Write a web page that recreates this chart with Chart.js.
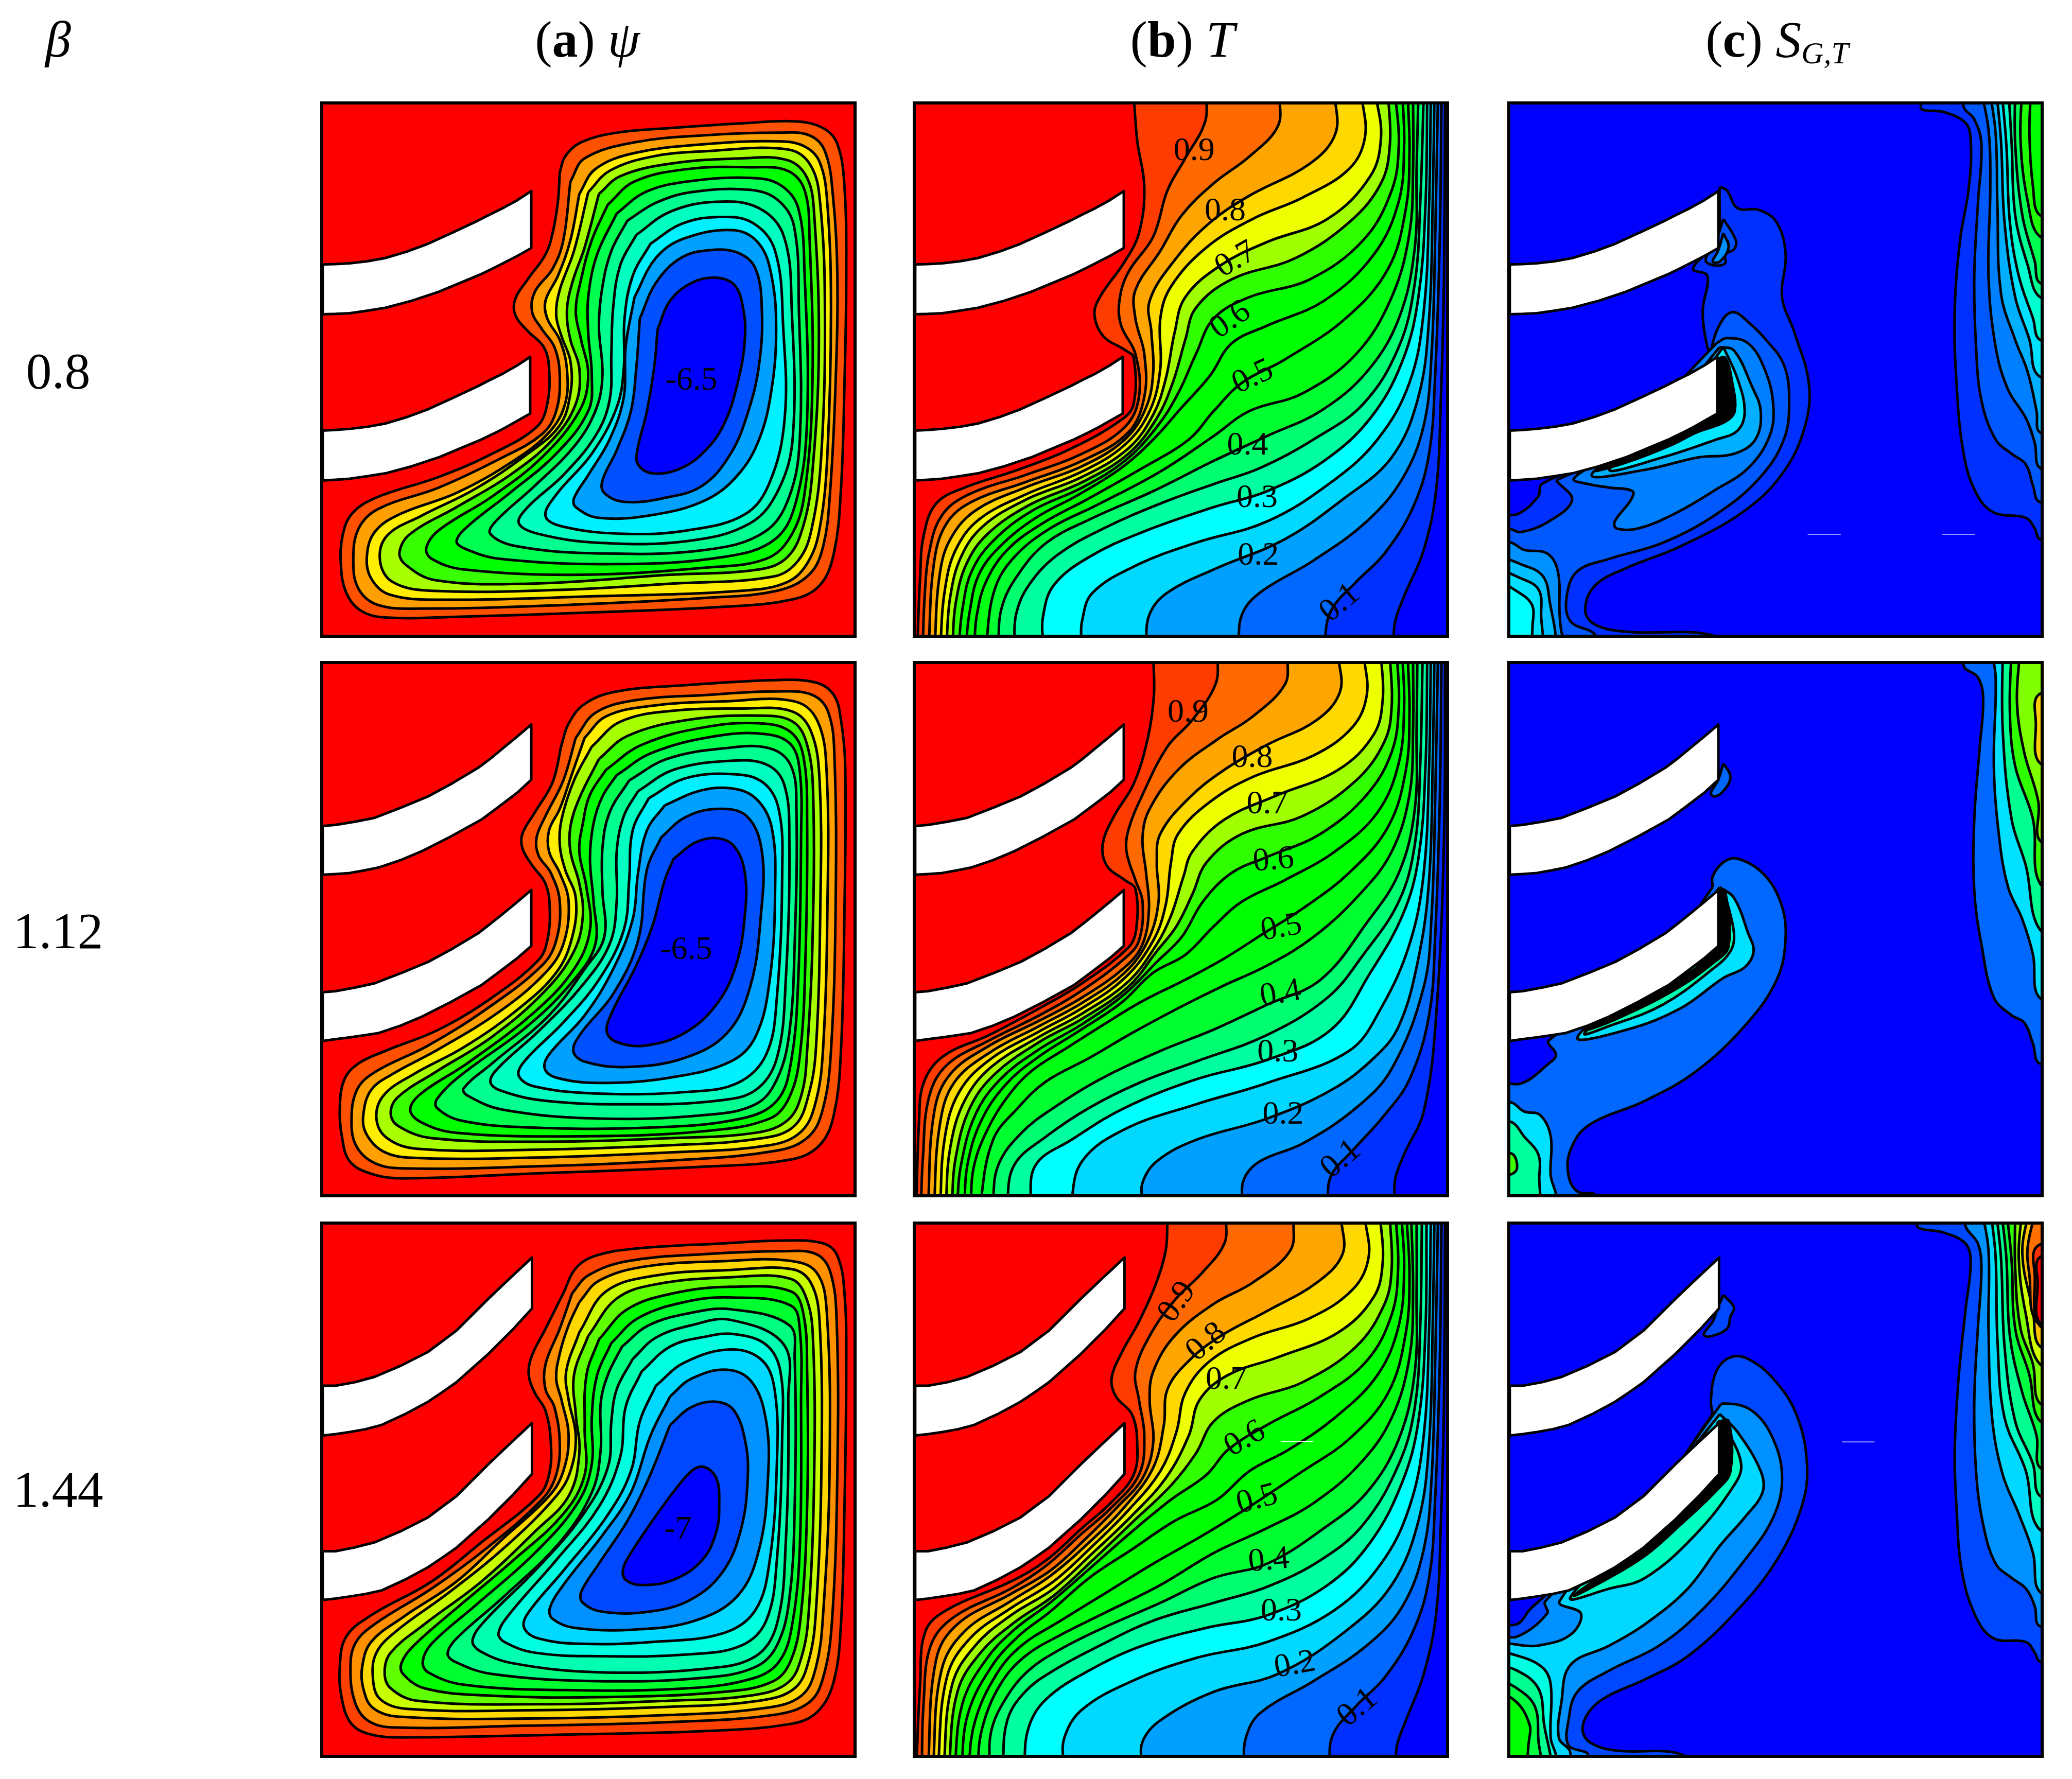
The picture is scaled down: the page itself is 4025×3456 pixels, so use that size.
<!DOCTYPE html>
<html>
<head>
<meta charset="utf-8">
<title>psi, T, S contours</title>
<script src="https://cdn.jsdelivr.net/npm/chart.js@4/dist/chart.umd.js"></script>
<style>
  html, body { margin: 0; background: #fff; }
  body { position: relative; width: 4025px; height: 3456px; overflow: hidden; font-family: "Liberation Serif", serif; color: #000; }
  canvas { position: absolute; outline: 6px solid #000; outline-offset: -6px; }
  .txt { position: absolute; font-size: 100px; line-height: 1; white-space: nowrap; transform: translate(-50%, -50%); }
  .txt sub { font-size: 60%; vertical-align: -0.22em; line-height: 0; }
</style>
</head>
<body>
<div class="txt" style="left:113px;top:77px"><i>β</i></div>
<div class="txt" style="left:1141px;top:77px">(<b>a</b>) <i>ψ</i></div>
<div class="txt" style="left:2297px;top:77px">(<b>b</b>) <i>T</i></div>
<div class="txt" style="left:3452px;top:77px">(<b>c</b>) <i>S<sub>G,T</sub></i></div>
<div class="txt" style="left:113px;top:721px">0.8</div>
<div class="txt" style="left:113px;top:1809px">1.12</div>
<div class="txt" style="left:113px;top:2894px">1.44</div>

<script>
const psiColors = ['#ff5000','#ffa000','#ffee00','#a8ff00','#38ff00','#00ff00','#00ff50','#00ff90','#00ffc0','#00f0ff','#00a0ff','#0050ff','#0000ff'];
const psiColorsDeep = ['#ff4000','#ff9000','#ffd800','#c8ff00','#60ff00','#00ff00','#00ff30','#00ff80','#00ffb0','#00ffe0','#00d8ff','#0090ff','#0048ff','#0000ff'];
const tempColors = ['#ff3c00','#ff6a00','#ffa500','#ffd800','#eeff00','#a0ff00','#30ff00','#00ff00','#00ff00','#00ff10','#00ff30','#00ff70','#00ffa0','#00ffff','#00d8ff','#00a0ff','#0068ff','#0030ff','#0000ff'];

const finRow1 = [[24,468,60,467,100,465,150,459,200,450,260,432,320,410,390,378,460,345,495,327,530,310,570,288,610,262,610,422,575,442,540,460,505,478,470,495,410,520,350,545,275,570,200,590,150,598,100,605,60,607,24,608],
  [24,935,60,933,100,930,150,924,200,915,260,897,320,875,390,843,460,810,495,792,530,775,570,752,607,728,607,887,575,905,540,925,505,943,470,960,410,985,350,1010,275,1035,200,1055,150,1063,100,1070,60,1073,24,1075]];
const finRow2 = [[24,468,60,465,115,456,170,445,245,416,320,385,390,347,460,305,495,279,530,250,570,217,610,183,610,338,570,375,520,413,470,450,385,497,300,540,240,565,180,585,140,593,100,600,60,603,24,605],
  [24,935,60,932,115,922,170,910,245,881,320,850,390,812,460,770,495,743,530,715,570,682,610,648,610,805,570,840,520,878,470,915,385,962,300,1005,240,1030,180,1050,140,1056,100,1062,60,1067,24,1072]];
const finRow3 = [[24,460,60,460,115,450,170,435,245,403,320,365,360,335,400,305,445,260,490,215,550,158,612,100,612,243,560,300,525,335,490,370,445,410,400,450,360,478,320,505,255,540,190,570,145,582,100,590,60,596,24,600],
  [24,925,60,925,115,914,170,900,245,868,320,830,360,800,400,770,445,725,490,680,550,623,612,565,612,708,560,765,525,800,490,835,445,875,400,915,360,943,320,970,255,1005,190,1035,145,1045,100,1052,60,1058,24,1062]];

const psiRow1 = [
  [690,210,705,165,750,125,850,98,1000,85,1200,72,1350,66,1430,85,1470,130,1490,250,1495,500,1490,800,1480,1100,1460,1280,1420,1370,1340,1410,1150,1430,800,1445,400,1458,200,1460,130,1440,90,1390,75,1310,80,1230,105,1170,170,1125,350,1065,500,1000,625,925,655,860,660,760,645,700,600,655,565,610,565,565,600,510,650,440,670,380,685,290],
  [720,235,760,170,900,125,1100,105,1300,98,1390,105,1435,150,1458,280,1470,500,1465,800,1450,1100,1430,1260,1390,1340,1300,1385,1100,1405,700,1425,300,1435,180,1425,125,1380,110,1300,125,1210,180,1155,350,1095,520,1015,640,945,680,880,690,780,675,700,640,650,612,600,620,545,670,480,700,400],
  [745,270,790,200,900,155,1100,130,1300,122,1375,135,1420,180,1442,300,1452,600,1442,1000,1422,1200,1390,1300,1330,1360,1200,1385,800,1400,350,1410,210,1395,160,1350,148,1290,170,1220,240,1170,400,1110,560,1020,660,940,705,860,710,760,690,680,655,620,650,570,685,500,720,400],
  [770,265,830,205,950,165,1100,150,1330,145,1395,190,1422,300,1435,600,1425,1000,1398,1210,1360,1300,1290,1345,1000,1365,700,1382,330,1385,220,1360,185,1300,205,1230,300,1175,450,1100,600,1000,690,920,720,830,720,740,695,670,680,610,690,540,730,430],
  [800,270,860,220,1000,185,1200,170,1330,175,1385,225,1405,330,1418,700,1400,1050,1375,1200,1330,1290,1250,1325,1000,1340,600,1365,340,1355,255,1310,240,1275,270,1225,400,1150,550,1060,670,960,735,860,745,760,720,680,710,600,725,520,760,420],
  [825,300,900,235,1050,200,1230,195,1330,205,1378,260,1392,400,1400,800,1378,1110,1340,1230,1270,1295,1100,1320,750,1340,420,1325,330,1295,315,1265,350,1215,500,1120,640,1010,745,880,770,780,750,680,735,600,750,510,780,400],
  [850,325,930,265,1050,235,1230,225,1310,245,1360,310,1378,500,1385,900,1355,1130,1295,1240,1150,1290,850,1310,520,1295,420,1265,400,1245,430,1205,550,1110,680,1000,770,880,780,780,770,660,770,560,795,440],
  [880,345,960,295,1060,265,1220,258,1300,285,1348,360,1362,600,1365,950,1335,1120,1265,1220,1100,1270,800,1280,570,1260,495,1225,510,1190,620,1090,730,980,790,880,810,780,800,640,810,530,835,430],
  [905,385,1000,320,1130,292,1250,310,1320,390,1342,600,1345,950,1305,1100,1225,1195,1050,1245,800,1250,630,1225,575,1195,600,1150,700,1060,790,950,830,850,835,720,840,590,860,470],
  [945,410,1030,355,1130,335,1230,350,1295,430,1318,650,1322,900,1280,1080,1210,1170,1050,1215,870,1225,700,1205,650,1175,680,1115,780,1000,850,870,870,760,872,620,895,500],
  [900,560,960,450,1040,395,1180,372,1250,410,1285,500,1298,650,1285,820,1250,960,1190,1060,1100,1130,950,1172,800,1180,735,1150,730,1125,770,1060,830,960,870,840,875,700],
  [915,620,960,520,1030,450,1110,428,1190,435,1240,480,1258,600,1250,750,1220,880,1170,1000,1090,1090,980,1125,870,1135,815,1110,810,1075,850,990,890,880,905,760],
  [965,650,1000,570,1060,520,1125,505,1180,525,1205,590,1210,680,1190,800,1150,920,1090,1000,1020,1045,950,1055,910,1030,908,990,935,880,955,760]
];
const psiRow2 = [
  [695,240,715,180,760,125,850,90,1050,72,1300,58,1410,65,1460,100,1480,170,1492,300,1490,700,1480,1100,1460,1280,1420,1365,1340,1405,1100,1425,600,1445,250,1458,160,1445,100,1410,78,1340,72,1260,85,1180,125,1135,200,1100,350,1040,500,950,630,845,655,790,662,700,650,630,610,575,585,530,585,490,620,430,670,345],
  [735,220,790,150,900,115,1100,100,1300,90,1400,100,1445,150,1462,280,1465,700,1452,1100,1430,1260,1390,1340,1300,1380,1000,1408,600,1425,250,1430,170,1415,120,1370,105,1300,120,1210,170,1160,320,1085,480,985,640,860,680,790,690,680,665,600,630,550,625,500,650,440,700,340],
  [760,220,820,160,950,130,1150,118,1350,118,1415,175,1440,320,1442,700,1430,1090,1410,1240,1370,1325,1280,1365,1000,1385,600,1400,270,1400,190,1380,145,1330,138,1280,160,1210,220,1165,350,1095,520,990,650,880,700,800,715,680,690,600,660,540,660,480,690,420,725,320],
  [780,245,860,175,1000,145,1200,138,1340,145,1395,200,1420,340,1422,700,1410,1090,1390,1220,1350,1310,1260,1345,1000,1365,600,1378,290,1375,205,1345,175,1290,195,1225,280,1165,420,1090,570,985,680,880,725,780,735,670,705,590,690,520,695,450,730,340],
  [800,280,880,215,1050,170,1250,158,1345,175,1385,240,1402,380,1400,800,1385,1100,1370,1220,1330,1295,1240,1330,1000,1345,650,1355,330,1345,235,1310,215,1275,235,1230,340,1160,500,1060,650,930,730,820,755,720,745,630,720,540,720,470,745,390],
  [820,310,920,240,1100,190,1260,180,1340,205,1375,275,1385,450,1380,850,1365,1110,1335,1230,1280,1290,1100,1325,750,1340,400,1330,300,1300,270,1265,300,1220,430,1135,620,990,730,870,775,760,765,640,745,540,755,460,775,380],
  [850,325,950,262,1130,215,1270,210,1340,240,1365,320,1368,500,1360,900,1340,1130,1300,1240,1200,1290,950,1315,600,1315,410,1295,345,1260,345,1235,410,1170,600,1030,730,900,790,800,785,680,775,560,785,460,810,385],
  [885,340,990,280,1150,250,1280,250,1340,300,1355,420,1350,800,1335,1050,1300,1180,1240,1250,1100,1280,800,1290,530,1265,430,1225,420,1205,500,1135,660,1000,760,870,815,780,810,650,810,530,830,430],
  [910,370,1010,310,1170,285,1270,295,1320,350,1335,500,1325,900,1300,1120,1240,1210,1130,1240,900,1250,650,1240,520,1210,495,1185,520,1145,630,1045,750,920,830,800,850,680,850,540,870,440],
  [940,390,1040,335,1170,322,1260,345,1305,420,1315,600,1300,950,1270,1110,1190,1190,1050,1215,800,1220,620,1200,575,1170,590,1130,700,1020,800,900,870,760,885,620,895,480],
  [985,410,1080,370,1170,362,1240,390,1285,470,1295,650,1280,900,1240,1060,1170,1130,1000,1175,800,1190,680,1175,648,1150,660,1110,760,1000,840,870,895,730,910,600,935,480],
  [975,500,1040,445,1130,420,1215,440,1258,540,1255,720,1225,920,1160,1050,1040,1120,880,1145,760,1130,728,1100,750,1050,840,940,910,790,935,590],
  [1010,560,1070,515,1130,502,1180,525,1210,600,1210,720,1185,860,1130,970,1040,1050,930,1085,850,1075,822,1045,840,985,900,870,950,750,985,620]
];
const psiRow3 = [
  [700,200,735,130,790,95,900,75,1150,60,1320,52,1430,60,1470,95,1490,200,1495,400,1490,800,1480,1130,1460,1290,1415,1375,1340,1410,1100,1430,700,1440,250,1448,160,1440,105,1410,78,1340,72,1250,90,1165,160,1105,330,1010,470,900,630,770,660,710,665,620,650,530,620,480,603,430,610,380,650,300],
  [725,200,770,150,880,110,1100,90,1320,82,1410,90,1450,140,1468,280,1470,700,1455,1120,1430,1280,1390,1350,1290,1385,1000,1405,600,1415,220,1420,150,1400,115,1350,102,1260,115,1185,170,1130,330,1030,480,920,640,780,680,710,690,620,675,520,650,470,650,400,690,300],
  [745,225,800,165,930,125,1150,110,1330,108,1410,140,1440,250,1448,700,1430,1100,1410,1250,1370,1330,1270,1365,1000,1385,600,1395,240,1390,165,1365,138,1310,135,1250,160,1180,250,1110,400,1010,530,890,660,770,700,700,715,600,695,500,680,440,690,370,715,290],
  [745,310,820,195,960,150,1170,135,1340,132,1395,170,1420,280,1425,700,1410,1090,1390,1230,1350,1310,1250,1345,1000,1362,600,1372,260,1368,185,1340,165,1280,175,1210,230,1150,380,1040,540,910,680,770,720,700,735,600,715,500,708,420],
  [770,320,850,215,960,175,1170,155,1340,160,1385,220,1402,340,1405,700,1390,1090,1370,1220,1330,1295,1230,1330,1000,1345,620,1355,290,1345,215,1310,198,1265,215,1210,310,1130,470,1010,620,870,715,770,745,650,735,540,730,430],
  [800,330,880,245,1010,200,1170,182,1340,195,1375,260,1385,420,1385,800,1368,1100,1340,1230,1290,1290,1150,1320,800,1335,480,1330,310,1310,250,1270,245,1240,280,1190,400,1085,560,950,700,820,760,710,760,580,765,430],
  [835,340,910,270,1040,225,1170,212,1340,235,1365,310,1368,500,1365,900,1345,1120,1310,1230,1240,1280,1050,1310,700,1315,420,1300,320,1265,305,1235,330,1185,450,1080,620,930,740,790,780,680,780,550,795,430],
  [865,350,940,290,1060,255,1170,245,1335,290,1350,380,1350,800,1335,1060,1300,1190,1240,1250,1100,1280,800,1290,500,1270,395,1235,375,1212,400,1170,530,1055,690,900,780,760,805,640,805,510,825,430],
  [895,385,960,325,1060,290,1170,275,1320,345,1332,500,1325,900,1300,1130,1240,1220,1100,1255,800,1265,560,1240,465,1205,445,1175,480,1120,620,980,750,830,825,690,835,560,850,470],
  [920,420,1000,350,1100,322,1180,315,1270,345,1310,420,1315,600,1300,950,1270,1120,1200,1190,1050,1215,800,1220,620,1210,535,1180,518,1155,550,1100,680,950,800,800,860,660,875,520],
  [960,460,1040,395,1170,358,1260,390,1295,480,1300,680,1280,950,1240,1090,1150,1155,950,1180,750,1185,630,1170,590,1140,600,1100,700,980,820,830,890,700,915,560],
  [1000,490,1060,440,1160,415,1230,450,1270,560,1275,720,1250,920,1190,1050,1070,1120,900,1145,730,1140,670,1115,662,1085,700,1020,810,880,890,760,945,600],
  [1000,570,1060,520,1130,505,1180,530,1212,620,1218,720,1200,860,1150,980,1060,1060,940,1095,810,1095,755,1070,750,1040,800,960,880,840,940,720],
  [1000,770,1060,700,1095,688,1130,720,1138,790,1130,870,1090,950,1010,1005,920,1020,875,1005,868,975,890,930,950,840]
];

// T = 0.95, 0.90 ... 0.05, each from the top edge to the bottom edge
const tempRow1 = [
  [625,-10,635,120,655,250,640,380,600,460,530,560,515,610,540,670,600,708,625,730,625,860,590,905,450,985,300,1045,150,1095,70,1140,35,1230,25,1350,18,1530],
  [830,-10,825,70,770,170,720,260,680,390,610,490,585,570,590,640,630,720,640,840,600,925,480,1000,320,1060,160,1115,85,1175,50,1280,38,1400,33,1530],
  [1035,-10,1030,80,950,165,850,240,760,330,700,430,630,540,630,620,655,720,655,840,610,940,480,1020,320,1080,170,1135,100,1195,65,1300,50,1530],
  [1190,-10,1192,100,1120,185,950,275,840,350,745,450,670,570,675,660,680,770,660,870,600,960,480,1035,320,1095,180,1160,110,1240,80,1340,67,1530],
  [1265,-10,1275,110,1230,200,1100,280,960,340,830,420,730,530,700,620,700,760,670,880,600,975,480,1050,320,1115,190,1185,125,1270,95,1380,83,1530],
  [1305,-10,1320,110,1290,220,1170,340,1000,405,870,470,770,560,740,660,715,790,680,890,610,985,480,1065,320,1130,200,1205,140,1290,110,1400,100,1530],
  [1340,-10,1345,130,1320,240,1230,350,1080,450,900,510,800,590,770,680,735,800,690,900,610,1000,480,1080,330,1145,215,1225,155,1310,125,1420,117,1530],
  [1360,-10,1370,130,1350,260,1270,400,1120,510,950,560,850,620,800,720,750,830,690,925,600,1020,480,1095,340,1160,230,1245,170,1330,145,1430,135,1530],
  [1380,-10,1385,130,1370,290,1300,440,1160,570,1000,640,900,690,840,780,760,870,680,960,590,1040,470,1115,350,1180,250,1260,190,1340,165,1440,155,1530],
  [1395,-10,1400,150,1390,310,1340,480,1220,620,1050,735,930,800,850,880,780,960,650,1040,500,1125,370,1195,270,1270,210,1360,185,1450,178,1530],
  [1410,-10,1410,200,1400,380,1350,560,1250,720,1100,830,950,880,850,950,700,1050,520,1145,390,1210,290,1290,235,1380,212,1530],
  [1425,-10,1420,200,1415,420,1370,620,1280,770,1150,880,1000,950,850,1020,680,1105,500,1185,380,1250,300,1340,255,1430,245,1530],
  [1440,-10,1430,300,1415,520,1370,700,1270,860,1130,960,980,1040,850,1085,700,1140,540,1210,410,1285,330,1370,295,1450,290,1530],
  [1450,-10,1445,300,1425,560,1380,740,1290,900,1160,1020,1000,1105,850,1150,650,1220,500,1290,400,1370,370,1460,370,1530],
  [1460,-10,1455,300,1440,600,1400,800,1310,960,1180,1080,1000,1190,800,1250,640,1310,510,1390,480,1470,478,1530],
  [1470,-10,1465,300,1455,620,1425,840,1350,1010,1210,1130,1050,1240,850,1325,720,1390,670,1450,660,1530],
  [1480,-10,1472,400,1462,720,1440,920,1380,1070,1280,1190,1130,1300,980,1390,930,1450,920,1530],
  [1490,-10,1485,400,1472,780,1455,1000,1410,1150,1330,1280,1250,1360,1180,1440,1162,1530],
  [1500,-10,1497,500,1488,850,1475,1100,1440,1270,1385,1400,1360,1470,1355,1530]
];
const tempRow2 = [
  [680,-10,682,100,665,220,625,350,570,440,538,520,550,580,600,620,630,645,632,760,610,810,480,910,370,975,220,1055,90,1115,35,1190,22,1300,15,1530],
  [862,-10,855,70,790,170,720,245,650,380,610,480,605,540,630,620,650,680,640,790,600,840,480,930,360,1000,220,1070,100,1140,50,1230,33,1400,28,1530],
  [1058,-10,1050,70,960,160,860,225,750,310,670,420,650,500,660,600,668,700,650,800,600,865,480,950,360,1015,220,1085,110,1165,65,1270,48,1530],
  [1200,-10,1205,90,1140,170,1000,240,880,310,780,390,700,490,690,570,695,680,665,790,600,880,480,965,360,1030,220,1105,120,1190,80,1310,65,1530],
  [1272,-10,1280,100,1240,190,1130,270,960,330,840,400,750,490,730,570,715,690,680,790,600,895,480,980,360,1045,220,1125,135,1215,95,1340,82,1530],
  [1320,-10,1325,110,1300,210,1200,310,1020,385,880,450,790,540,765,610,730,720,690,800,610,905,480,995,360,1060,225,1145,150,1240,110,1370,98,1530],
  [1345,-10,1350,130,1330,230,1250,340,1100,440,930,490,830,570,790,660,745,750,690,820,610,920,480,1010,360,1075,235,1165,165,1260,125,1400,115,1530],
  [1365,-10,1370,130,1350,260,1280,380,1150,490,1000,555,900,600,820,680,760,780,690,850,600,940,480,1025,360,1095,250,1180,180,1280,140,1420,130,1530],
  [1380,-10,1385,130,1370,290,1310,430,1190,540,1050,620,930,680,850,750,770,830,680,880,590,965,470,1045,360,1115,265,1195,195,1300,158,1420,150,1530],
  [1395,-10,1400,150,1390,310,1340,470,1230,600,1100,700,990,770,880,840,770,900,650,960,550,1020,440,1090,340,1155,270,1230,210,1330,175,1430,168,1530],
  [1410,-10,1410,200,1400,380,1350,540,1260,660,1130,780,1000,860,870,920,750,980,620,1050,500,1120,380,1185,300,1260,230,1350,195,1530],
  [1422,-10,1420,200,1415,420,1370,600,1280,740,1150,900,1000,970,850,1040,700,1100,530,1180,400,1260,310,1330,245,1420,230,1530],
  [1437,-10,1430,300,1415,520,1370,680,1270,830,1170,950,1000,1055,800,1130,640,1190,500,1260,380,1340,290,1420,270,1530],
  [1450,-10,1445,300,1425,560,1380,720,1290,880,1180,1040,1000,1125,800,1180,600,1260,450,1350,350,1420,335,1530],
  [1460,-10,1455,300,1440,600,1400,800,1320,980,1230,1100,1000,1190,800,1250,600,1320,480,1410,450,1530],
  [1470,-10,1465,300,1455,620,1425,840,1370,1030,1300,1120,1180,1210,1000,1290,800,1350,690,1410,650,1470,650,1530],
  [1480,-10,1472,400,1462,720,1440,920,1350,1150,1250,1260,1100,1360,980,1410,935,1460,930,1530],
  [1490,-10,1485,400,1472,780,1455,1000,1400,1180,1330,1280,1240,1380,1180,1450,1170,1530],
  [1500,-10,1497,500,1475,1000,1440,1270,1385,1390,1360,1460,1358,1530]
];
const tempRow3 = [
  [720,-10,715,80,685,180,640,280,590,370,563,440,575,490,620,540,635,620,625,710,560,790,480,860,380,950,280,1010,100,1090,40,1150,25,1300,15,1530],
  [885,-10,880,60,820,140,740,220,670,320,630,420,640,500,655,600,640,710,560,805,480,875,380,965,280,1030,120,1110,55,1190,35,1350,30,1530],
  [1075,-10,1065,80,960,170,850,230,740,320,680,420,670,500,680,620,650,720,580,800,490,890,390,980,280,1045,130,1130,70,1230,48,1530],
  [1208,-10,1212,90,1140,170,1000,250,870,320,780,390,720,470,710,570,680,690,600,800,500,900,390,995,280,1065,150,1150,85,1260,62,1530],
  [1275,-10,1285,100,1240,190,1120,270,960,325,840,390,770,480,745,590,700,700,610,810,510,910,400,1010,280,1085,165,1170,100,1280,76,1530],
  [1318,-10,1325,110,1300,210,1200,310,1030,380,890,430,810,500,780,600,715,720,620,825,510,930,400,1030,280,1105,180,1190,115,1300,92,1530],
  [1345,-10,1350,130,1330,230,1250,350,1100,450,950,500,850,560,800,650,730,740,620,845,510,950,400,1050,290,1125,195,1210,130,1320,107,1530],
  [1362,-10,1368,130,1350,260,1280,390,1150,490,1000,570,890,640,830,710,730,780,620,870,500,975,390,1070,290,1145,210,1230,145,1350,123,1530],
  [1378,-10,1385,130,1370,290,1310,430,1190,550,1060,640,950,700,860,780,740,840,620,920,500,1000,390,1095,300,1165,225,1250,160,1380,142,1530],
  [1392,-10,1400,150,1390,310,1340,480,1230,610,1100,700,950,800,820,880,680,960,550,1040,420,1120,310,1190,240,1270,180,1400,162,1530],
  [1405,-10,1410,200,1400,380,1350,550,1260,680,1130,790,1000,860,850,930,700,1020,540,1100,420,1160,320,1220,250,1300,200,1420,187,1530],
  [1420,-10,1420,200,1415,420,1370,610,1280,760,1160,860,1000,960,850,1000,700,1070,540,1140,420,1200,330,1260,265,1340,225,1430,220,1530],
  [1435,-10,1430,300,1415,520,1370,680,1270,850,1150,950,1000,1025,850,1070,680,1120,530,1190,400,1260,320,1320,270,1400,258,1530],
  [1448,-10,1445,300,1425,560,1380,730,1290,900,1170,1020,1000,1105,830,1140,650,1190,500,1260,380,1340,330,1420,318,1530],
  [1460,-10,1455,300,1440,600,1400,800,1320,960,1190,1090,1000,1180,800,1225,620,1290,480,1370,430,1450,428,1530],
  [1470,-10,1465,300,1455,620,1425,840,1350,1020,1220,1150,1030,1270,850,1320,700,1400,650,1460,648,1530],
  [1480,-10,1472,400,1462,720,1440,920,1380,1080,1280,1190,1130,1290,980,1380,940,1450,935,1530],
  [1490,-10,1485,400,1472,780,1455,1000,1410,1150,1330,1280,1250,1360,1185,1440,1175,1530],
  [1500,-10,1497,500,1488,850,1475,1100,1440,1270,1390,1400,1365,1470,1362,1530]
];

const sgtRow1 = [
  [1215,-40,1175,28,1240,40,1300,70,1315,120,1310,250,1285,400,1270,600,1275,800,1295,1000,1330,1110,1380,1165,1470,1180,1495,1210,1510,1240,1600,1240,1600,-40],
  [1300,-40,1295,25,1325,60,1345,130,1335,300,1325,500,1330,700,1345,850,1385,960,1430,1000,1470,1030,1490,1090,1508,1135,1600,1135,1600,-40],
  [1340,-40,1365,90,1370,250,1365,500,1385,700,1420,820,1470,900,1495,970,1510,1040,1600,1040,1600,-40],
  [1365,-40,1385,100,1390,300,1400,550,1440,680,1475,770,1500,880,1510,940,1600,940,1600,-40],
  [1385,-40,1400,120,1410,350,1440,560,1480,680,1505,780,1600,780,1600,-40],
  [1400,-40,1415,130,1425,350,1450,500,1490,620,1510,680,1600,680,1600,-40],
  [1420,-40,1430,130,1440,330,1475,470,1510,560,1600,560,1600,-40],
  [1440,-40,1440,130,1460,330,1495,460,1510,520,1600,520,1600,-40],
  [1460,-40,1455,120,1475,290,1510,390,1600,390,1600,-40],
  [1485,-40,1480,100,1490,250,1510,330,1600,330,1600,-40],
  [610,250,630,260,660,310,720,315,770,350,795,440,785,560,820,660,860,800,850,920,790,1050,680,1160,500,1260,350,1320,260,1370,232,1440,260,1480,350,1500,590,1510,590,1560,-40,1560,-40,1175,40,1170,100,1120,110,1085,300,1000,590,735,575,700,562,600,575,500,535,480,600,400],
  [150,1075,195,1130,130,1190,50,1220,12,1210,-40,1240,-40,1560,230,1560,260,1510,190,1470,180,1400,210,1330,300,1295,450,1250,600,1170,720,1070,790,960,805,850,790,750,740,680,690,630,650,602,620,620,590,690,590,735,300,1000],
  [600,690,630,675,690,690,735,760,760,860,750,950,690,1040,600,1100,480,1170,380,1210,320,1210,315,1190,360,1130,365,1105,300,1095,240,1085,200,1070,300,1000],
  [610,700,650,710,700,810,725,880,710,960,650,1000,550,1010,400,1045,250,1060,400,950],
  [620,700,660,790,680,880,660,935,600,960,450,1010,300,1045,450,930],
  [600,735,625,730,645,800,652,880,625,910,545,940,475,975,355,1022,260,1048,350,1005,470,950,540,915],
  [-40,1240,25,1250,60,1270,125,1280,155,1330,160,1450,165,1500,180,1560,-40,1560],
  [-40,1275,50,1310,110,1340,130,1400,135,1560,-40,1560],
  [-40,1310,40,1345,100,1380,108,1450,100,1560,-40,1560],
  [-40,1340,30,1380,80,1420,85,1470,65,1560,-40,1560],
  [620,340,655,400,650,425,625,440,625,465,590,470,570,455,600,400],
  [620,380,635,420,610,460,590,460,605,430]
];
const sgtRow1Colors = ['#0030ff','#0058ff','#0080ff','#00b0ff','#00e0ff','#00ffd0','#00ff90','#00ff50','#20ff00','#00ff00',
  '#0030ff','#0058ff','#0080ff','#00b0ff','#00e8ff','#000000','#0090ff','#00c0ff','#00e0ff','#00ffff','#0050ff','#0090ff'];
const sgtRow2 = [
  [1315,-40,1295,18,1335,50,1350,110,1340,250,1325,450,1325,650,1345,800,1380,950,1430,1000,1465,1020,1490,1080,1508,1135,1600,1135,1600,-40],
  [1370,-40,1385,50,1380,300,1395,500,1420,640,1460,730,1490,830,1508,950,1600,950,1600,-40],
  [1405,-40,1405,200,1430,450,1470,580,1510,760,1600,760,1600,-40],
  [1430,-40,1425,150,1440,300,1490,450,1510,630,1600,630,1600,-40],
  [1455,-40,1445,120,1465,260,1505,400,1510,510,1600,510,1600,-40],
  [1600,90,1505,100,1498,180,1508,290,1600,290],
  [590,640,590,610,620,570,660,560,730,600,780,680,795,780,770,900,680,1030,540,1160,400,1240,240,1310,190,1380,185,1450,210,1495,260,1505,230,1560,-40,1560,-40,1190,50,1192,130,1135,150,1110,130,1070,400,900],
  [610,640,650,670,690,770,705,820,680,865,620,895,500,980,350,1040,210,1062,400,900],
  [625,660,650,770,640,820,590,870,450,970,300,1030,230,1050,400,900],
  [607,650,625,650,635,805,595,850,480,930,320,1010,230,1042,300,1000,470,910,570,835],
  [620,292,640,330,620,370,595,385,585,375,605,340],
  [-40,1240,25,1245,60,1270,105,1280,135,1340,135,1450,150,1505,150,1560,-40,1560],
  [-40,1295,25,1300,60,1340,100,1390,103,1450,92,1560,-40,1560],
  [-40,1390,28,1390,35,1440,-40,1448]
];
const sgtRow2Colors = ['#0068ff','#00e0ff','#00ff90','#30ff00','#80ff00','#ffd000','#0068ff','#00e0ff','#00ffb0','#000000','#0068ff','#00e0ff','#00ff9f','#40ff00'];
const sgtRow3 = [
  [1210,-40,1165,12,1240,30,1300,60,1315,110,1300,250,1280,450,1270,650,1275,800,1290,980,1330,1110,1380,1170,1470,1180,1495,1210,1510,1235,1600,1235,1600,-40],
  [1310,-40,1300,10,1335,60,1345,130,1335,300,1325,500,1330,700,1350,850,1385,960,1430,1000,1470,1030,1495,1080,1508,1135,1600,1135,1600,-40],
  [1345,-40,1365,80,1365,300,1375,550,1405,710,1450,820,1490,930,1510,1040,1600,1040,1600,-40],
  [1370,-40,1385,100,1390,330,1410,550,1470,700,1505,860,1600,860,1600,-40],
  [1385,-40,1400,100,1410,350,1440,560,1490,680,1510,770,1600,770,1600,-40],
  [1400,-40,1415,100,1425,320,1460,480,1500,600,1510,690,1600,690,1600,-40],
  [1415,-40,1430,110,1440,300,1480,430,1510,560,1600,560,1600,-40],
  [1440,-40,1440,130,1455,300,1490,400,1510,510,1600,510,1600,-40],
  [1460,-40,1450,100,1470,260,1510,400,1600,400,1600,-40],
  [1480,-40,1460,90,1490,250,1510,350,1600,350,1600,-40],
  [1500,-40,1475,70,1480,150,1500,280,1600,310,1600,-40],
  [1600,50,1500,70,1495,150,1508,290,1600,300],
  [1600,85,1508,100,1503,170,1510,285,1600,290],
  [590,540,585,500,600,420,640,380,690,385,760,440,825,540,855,680,840,800,770,950,660,1090,520,1220,400,1285,290,1335,240,1380,225,1430,250,1465,320,1485,505,1497,510,1560,-40,1560,-40,1135,40,1130,80,1085,400,800],
  [600,530,620,510,700,530,760,610,785,720,760,830,680,950,560,1090,440,1190,300,1260,210,1320,185,1400,185,1470,240,1497,180,1560,-40,1560,-40,1165,40,1165,125,1100,120,1065,400,800],
  [610,540,660,590,725,700,730,760,680,830,610,910,520,1030,400,1130,300,1190,190,1245,165,1350,158,1450,190,1490,170,1560,-40,1560,-40,1200,100,1190,190,1160,220,1100,160,1065,400,800],
  [630,580,670,680,650,740,540,880,400,1000,300,1030,190,1055,400,850],
  [605,560,635,560,640,700,605,750,500,850,410,930,325,985,200,1050,320,965,400,910,490,830,560,760],
  [-40,1205,30,1215,110,1250,135,1300,135,1450,150,1500,150,1560,-40,1560],
  [-40,1240,40,1260,100,1310,115,1400,125,1560,-40,1560],
  [-40,1270,40,1310,90,1360,100,1450,100,1560,-40,1560],
  [-40,1300,40,1350,75,1410,75,1450,50,1560,-40,1560],
  [620,205,650,240,640,265,630,300,580,322,565,315,590,280,605,240]
];
const sgtRow3Colors = ['#0048ff','#0090ff','#00d8ff','#00ffc0','#00ff90','#00ff40','#30ff00','#80ff00','#d0ff00','#ffc000','#ff7000','#ff3000','#ff0000',
  '#0048ff','#0090ff','#00d8ff','#00ffc0','#000000','#00ffe0','#00ff90','#00ff40','#00ff00','#0048ff'];

const psiLabelsRow1 = [['-6.5',1060,795,0]];
const psiLabelsRow2 = [['-6.5',1045,818,0]];
const psiLabelsRow3 = [['-7',1022,865,0]];
const tempLabelsRow1 = [['0.9',795,150,0],['0.8',882,320,0],['0.7',912,455,-30],['0.6',897,625,-35],['0.5',960,785,-25],['0.4',945,978,0],['0.3',972,1125,0],['0.2',975,1288,0],['0.1',1205,1420,-40]];
const tempLabelsRow2 = [['0.9',778,150,0],['0.8',958,278,0],['0.7',1000,408,0],['0.6',1018,565,-5],['0.5',1040,755,-10],['0.4',1038,940,-10],['0.3',1030,1105,0],['0.2',1045,1280,0],['0.1',1208,1405,-40]];
const tempLabelsRow3 = [['0.9',748,225,-55],['0.8',830,338,-40],['0.7',885,445,0],['0.6',938,610,-30],['0.5',972,780,-15],['0.4',1005,952,-5],['0.3',1040,1095,0],['0.2',1078,1245,-10],['0.1',1255,1365,-40]];

const sgtStreaksRow1 = [[857,1226,950,1226],[1235,1226,1327,1226]];
const sgtStreaksRow3 = [[953,618,1045,618]];
const tempStreaksRow3 = [[1040,617,1130,617]];

// canvas boxes on the page, and the plot unit window each box shows
const colLeft = [622, 1773, 2928];
const rowTop = [197, 1284, 2373];
const boxSize = 1042;
const colMin = [17, 4.3, 13];
const rowMin = [10, 4.3, -1.4];
const unitSpan = 1507;

const fillShape = {
  id: 'fillShape',
  beforeDatasetDraw(chart, args) {
    const ds = chart.data.datasets[args.index];
    if (!ds.shapeColor) return;
    const line = args.meta.dataset;
    const ctx = chart.ctx;
    line.updateControlPoints(chart.chartArea, 'x');
    ctx.save();
    ctx.beginPath();
    line.path(ctx);
    ctx.closePath();
    ctx.fillStyle = ds.shapeColor;
    ctx.fill();
    ctx.restore();
  }
};

const contourText = {
  id: 'contourText',
  afterDatasetsDraw(chart) {
    const ctx = chart.ctx;
    ctx.save();
    ctx.font = '64px "Liberation Serif", serif';
    ctx.fillStyle = '#000';
    ctx.textAlign = 'center';
    ctx.textBaseline = 'middle';
    chart.options.plugins.contourText.labels.forEach(l => {
      ctx.save();
      ctx.translate(chart.scales.x.getPixelForValue(l[1]), chart.scales.y.getPixelForValue(l[2]));
      ctx.rotate(l[3] * Math.PI / 180);
      ctx.fillText(l[0], 0, 0);
      ctx.restore();
    });
    ctx.restore();
  }
};

function toPoints(flat) {
  const pts = [];
  for (let i = 0; i < flat.length; i += 2) pts.push({ x: flat[i], y: flat[i + 1] });
  return pts;
}

function closedPoints(flat) {
  const pts = toPoints(flat);
  pts.push(pts[0]);
  return pts;
}

// open T curve: run it off the panel and round the right side
function bandPoints(flat) {
  const pts = toPoints(flat);
  const first = pts[0], last = pts[pts.length - 1];
  pts.push({ x: last.x, y: 1620 }, { x: 1800, y: 1800 }, { x: 1800, y: -300 }, { x: first.x, y: -120 });
  return pts;
}

function addPanel(col, row, curves, colors, back, fins, labels, streaks, pointsOf) {
  const canvas = document.createElement('canvas');
  canvas.width = boxSize;
  canvas.height = boxSize;
  canvas.style.left = colLeft[col] + 'px';
  canvas.style.top = rowTop[row] + 'px';
  canvas.style.width = boxSize + 'px';
  canvas.style.height = boxSize + 'px';
  canvas.style.background = back;
  document.body.appendChild(canvas);

  const datasets = [];
  curves.forEach((c, i) => {
    datasets.push({ data: pointsOf(c), shapeColor: colors[i], borderColor: '#000', borderWidth: 5, tension: 0.38 });
  });
  (streaks || []).forEach(s => {
    datasets.push({ data: toPoints(s), borderColor: '#ffffff', borderWidth: 1.5, tension: 0 });
  });
  fins.forEach(f => {
    const moved = f.slice();
    for (let i = 0; i < moved.length; i += 2) moved[i] = moved[i] - colMin[0] + colMin[col];
    datasets.push({ data: closedPoints(moved), shapeColor: '#ffffff', borderColor: '#000', borderWidth: 5, tension: 0 });
  });
  datasets.forEach((d, i) => {
    d.order = -i;
    d.showLine = true;
    d.pointRadius = 0;
    d.fill = false;
    d.capBezierPoints = false;
    d.borderJoinStyle = 'round';
  });

  new Chart(canvas, {
    type: 'scatter',
    data: { datasets: datasets },
    plugins: [fillShape, contourText],
    options: {
      responsive: false,
      animation: false,
      devicePixelRatio: 1,
      layout: { padding: 0 },
      events: [],
      plugins: { legend: { display: false }, tooltip: { enabled: false }, contourText: { labels: labels } },
      scales: {
        x: { type: 'linear', display: false, min: colMin[col], max: colMin[col] + unitSpan },
        y: { type: 'linear', display: false, reverse: true, min: rowMin[row], max: rowMin[row] + unitSpan }
      }
    }
  });
}

addPanel(0, 0, psiRow1, psiColors, '#ff0000', finRow1, psiLabelsRow1, null, closedPoints);
addPanel(0, 1, psiRow2, psiColors, '#ff0000', finRow2, psiLabelsRow2, null, closedPoints);
addPanel(0, 2, psiRow3, psiColorsDeep, '#ff0000', finRow3, psiLabelsRow3, null, closedPoints);
addPanel(1, 0, tempRow1, tempColors, '#ff0000', finRow1, tempLabelsRow1, null, bandPoints);
addPanel(1, 1, tempRow2, tempColors, '#ff0000', finRow2, tempLabelsRow2, null, bandPoints);
addPanel(1, 2, tempRow3, tempColors, '#ff0000', finRow3, tempLabelsRow3, tempStreaksRow3, bandPoints);
addPanel(2, 0, sgtRow1, sgtRow1Colors, '#0000ff', finRow1, [], sgtStreaksRow1, closedPoints);
addPanel(2, 1, sgtRow2, sgtRow2Colors, '#0000ff', finRow2, [], null, closedPoints);
addPanel(2, 2, sgtRow3, sgtRow3Colors, '#0000ff', finRow3, [], sgtStreaksRow3, closedPoints);
</script>
</body>
</html>
